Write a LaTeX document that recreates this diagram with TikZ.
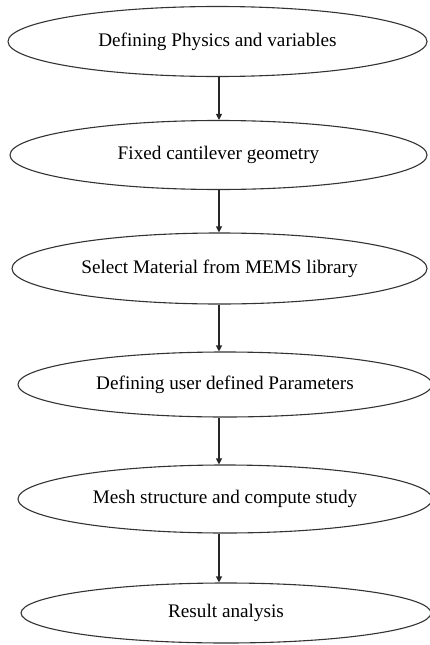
\documentclass[tikz,border=0pt]{standalone}
\usepackage{fontspec}
\setmainfont{Liberation Serif}
\usetikzlibrary{shapes.geometric,arrows.meta}
\begin{document}
\begin{tikzpicture}[x=1pt,y=-1pt,
  stage/.style={ellipse,draw=black!80,line width=1.1pt,inner sep=0pt,font=\fontsize{19.2}{22}\selectfont},
  flow/.style={draw=black!85,line width=1.1pt,-{Triangle[length=6pt,width=6pt]}}]
\useasboundingbox (0,0) rectangle (430,645);
\coordinate (axis) at (219,0);
\node[stage,minimum width=419pt,minimum height=70pt] (s1) at (217.5,41.5) {Defining Physics and variables};
\node[stage,minimum width=417pt,minimum height=69pt] (s2) at (218.5,155) {Fixed cantilever geometry};
\node[stage,minimum width=415pt,minimum height=71pt] (s3) at (219.5,268.5) {Select Material from MEMS library};
\node[stage,minimum width=414pt,minimum height=65pt] (s4) at (225,384.5) {Defining user defined Parameters};
\node[stage,minimum width=414pt,minimum height=68pt] (s5) at (225,499) {Mesh structure and compute study};
\node[stage,minimum width=410pt,minimum height=60pt] (s6) at (226,613) {Result analysis};
\draw[flow] (axis |- s1.south) -- (axis |- s2.north);
\draw[flow] (axis |- s2.south) -- (axis |- s3.north);
\draw[flow] (axis |- s3.south) -- (axis |- s4.north);
\draw[flow] (axis |- s4.south) -- (axis |- s5.north);
\draw[flow] (axis |- s5.south) -- (axis |- s6.north);
\end{tikzpicture}
\end{document}
